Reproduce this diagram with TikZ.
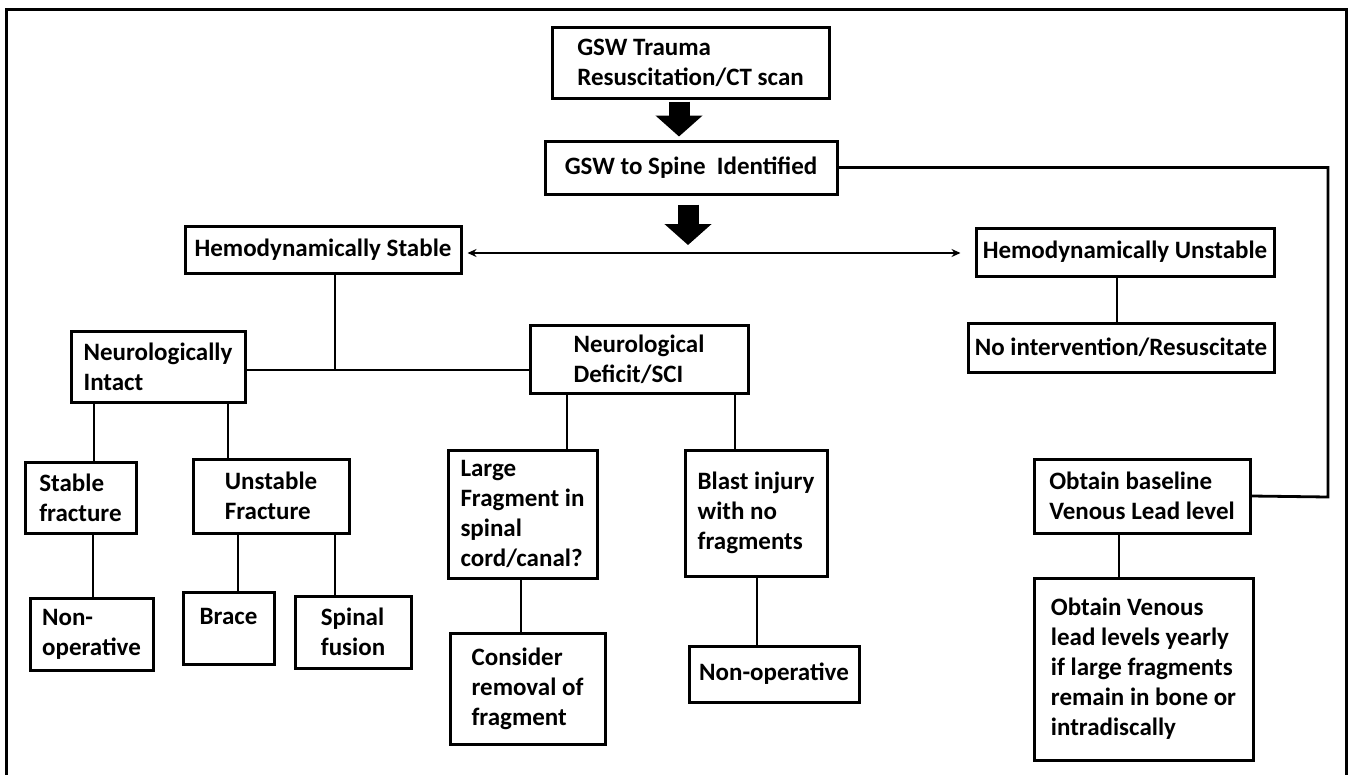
\documentclass[tikz,border=0pt]{standalone}
\usepackage{fontspec}
\setmainfont{Carlito}
\usetikzlibrary{arrows.meta,calc}
\newcommand\mybox[6]{\node[box, minimum width={(#4-#2)*1pt}, minimum height={(#5-#3)*1pt}] (#1) at ({(#2+#4)/2},{(#3+#5)/2}) {#6};}
\begin{document}
\begin{tikzpicture}[x=1pt,y=-1pt,
  box/.style={draw, line width=3pt, inner sep=0pt, align=left, font=\fontsize{25}{30}\selectfont\bfseries},
  conn/.style={line width=2.8pt},
  frameline/.style={line width=3pt},
  fatarrow/.style={line width=21pt, -{Triangle[width=46pt,length=21pt]}},
  smallarrows/.style={line width=2.2pt, {Stealth[length=9pt,width=8pt]}-{Stealth[length=9pt,width=8pt]}}
  ]
\useasboundingbox (0,0) rectangle (1348,774);
\fill[white] (0,0) rectangle (1348,774);
\draw[frameline] (6.5,778) -- (6.5,9) -- (1346.5,9) -- (1346.5,778);

\mybox{trauma}{552}{27}{829}{98}{GSW Trauma\\Resuscitation/CT scan}
\mybox{spine}{545}{141}{837}{194}{GSW to Spine~ Identified}
\mybox{hstable}{185}{226}{461}{273}{Hemodynamically Stable}
\mybox{hunstable}{976}{228}{1274}{276}{Hemodynamically Unstable}
\mybox{noint}{968}{323}{1274}{372}{No intervention/Resuscitate}
\mybox{intact}{71}{331}{245}{402}{Neurologically\\Intact}
\mybox{deficit}{530}{325}{748}{393}{Neurological\\Deficit/SCI}
\mybox{sfx}{25}{462}{136}{533}{Stable\\fracture}
\mybox{ufx}{193}{459}{349}{533}{Unstable\\Fracture}
\mybox{nonopa}{30}{598}{153}{670}{Non-\\operative}
\mybox{brace}{183}{592}{274}{664}{\raisebox{-6pt}{Brace}\\\mbox{}}
\mybox{fusion}{295}{596}{411}{668}{Spinal\\fusion}
\mybox{large}{448}{450}{597}{578}{Large\\Fragment in\\spinal\\cord/canal?}
\mybox{consider}{450}{633}{605}{744}{Consider\\removal of\\fragment}
\mybox{blast}{685}{450}{827}{576}{Blast injury\\with no\\fragments}
\mybox{nonopb}{689}{646}{859}{702}{Non-operative}
\mybox{baseline}{1034}{459}{1250}{533}{Obtain baseline\\Venous Lead level}
\mybox{venous}{1034}{578}{1253}{760}{Obtain Venous\\lead levels yearly\\if large fragments\\remain in bone or\\intradiscally}

% thick arrows
\draw[fatarrow] ([xshift=-11.5pt,yshift=-2pt]trauma.south) -- ([xshift=-12pt,yshift=3pt]spine.north);
\coordinate (j) at (688,245);
\draw[fatarrow] ([xshift=-3pt,yshift=-9pt]spine.south) -- (j);

% double arrow
\coordinate (hline) at (688,253);
\draw[smallarrows] ($(hline -| hstable.east)+(5,0)$) -- ($(hline -| hunstable.west)+(-14,0)$);

% right connector
\coordinate (rc) at (1328,497);
\draw[conn] (spine.east) -| (rc) -- (baseline.east);

% stable to neuro branches
\coordinate (hj) at (335,370);
\draw[conn] (hj |- hstable.south) -- (hj);
\draw[conn] (intact.east |- hj) -- (deficit.west |- hj);

% vertical connectors
\coordinate (c1) at (94,0);
\coordinate (c2) at (228,0);
\coordinate (c3) at (93,0);
\coordinate (c4) at (238,0);
\coordinate (c5) at (335,0);
\coordinate (c6) at (567,0);
\coordinate (c7) at (735,0);
\coordinate (c8) at (521,0);
\coordinate (c9) at (757,0);
\coordinate (c10) at (1117,0);
\coordinate (c11) at (1119,0);
\draw[conn] (intact.south -| c1) -- (sfx.north -| c1);
\draw[conn] (intact.south -| c2) -- (ufx.north -| c2);
\draw[conn] (sfx.south -| c3) -- (nonopa.north -| c3);
\draw[conn] (ufx.south -| c4) -- (brace.north -| c4);
\draw[conn] (ufx.south -| c5) -- (fusion.north -| c5);
\draw[conn] (deficit.south -| c6) -- (large.north -| c6);
\draw[conn] (deficit.south -| c7) -- (blast.north -| c7);
\draw[conn] (large.south -| c8) -- (consider.north -| c8);
\draw[conn] (blast.south -| c9) -- (nonopb.north -| c9);
\draw[conn] (hunstable.south -| c10) -- (noint.north -| c10);
\draw[conn] (baseline.south -| c11) -- (venous.north -| c11);
\end{tikzpicture}
\end{document}
